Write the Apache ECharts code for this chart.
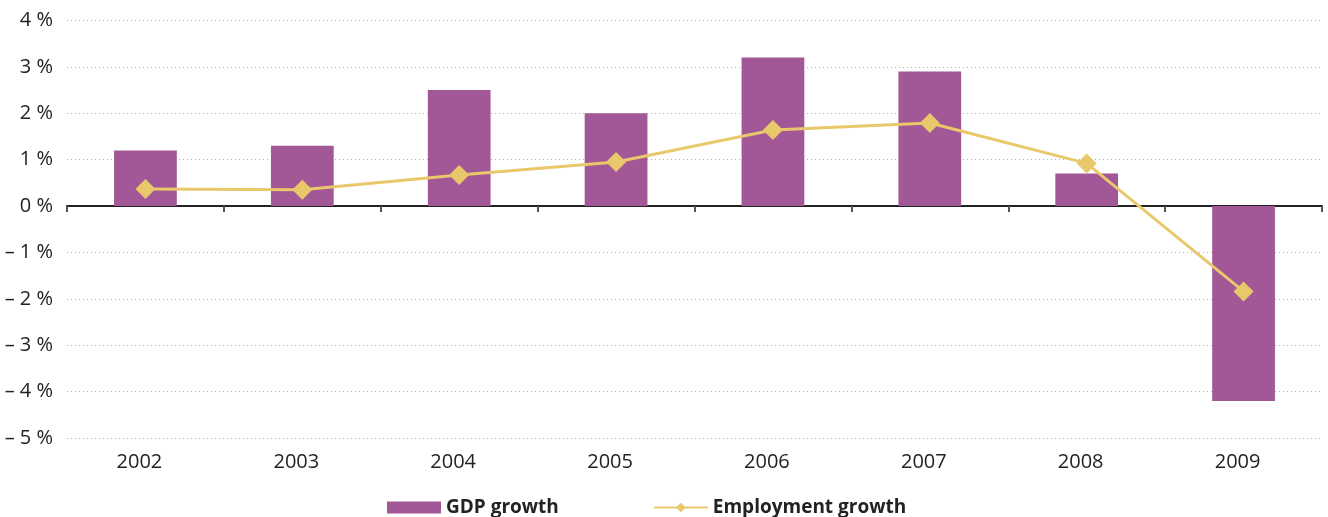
<!DOCTYPE html>
<html>
<head>
<meta charset="utf-8">
<script src="https://cdn.jsdelivr.net/npm/echarts@6/dist/echarts.min.js"></script>
<style>
  html, body { margin: 0; padding: 0; background: #fff; }
  #chart { width: 1328px; height: 517px; }
</style>
</head>
<body>
<div id="chart"></div>
<script>
// Annual growth rates, in percent
const years = ['2002', '2003', '2004', '2005', '2006', '2007', '2008', '2009'];
const gdpGrowth = [1.2, 1.3, 2.5, 2.0, 3.2, 2.9, 0.7, -4.2];
const employmentGrowth = [0.37, 0.35, 0.67, 0.95, 1.64, 1.79, 0.92, -1.84];
const yTickValues = [-5, -4, -3, -2, -1, 0, 1, 2, 3, 4];
const yTickLabels = ['– 5 %', '– 4 %', '– 3 %', '– 2 %', '– 1 %', '0 %', '1 %', '2 %', '3 %', '4 %'];

const FONT = '"Open Sans", "Noto Sans", sans-serif';
const chart = echarts.init(document.getElementById('chart'));

chart.setOption({
  animation: false,
  textStyle: { fontFamily: FONT },
  grid: { left: 67, right: 6, top: 20.5, bottom: 79, containLabel: false },
  legend: {
    bottom: 0,
    left: 387,
    padding: 0,
    itemWidth: 54,
    itemHeight: 12,
    itemGap: 94,
    textStyle: { fontFamily: FONT, fontSize: 19, fontWeight: 'bold', color: '#222' },
    data: [
      { name: 'GDP growth', icon: 'rect' },
      { name: 'Employment growth' }
    ]
  },
  xAxis: [
    {
      // zero line with the category boundary ticks
      type: 'category',
      data: years,
      position: 'bottom',
      axisLine: { onZero: true, lineStyle: { color: '#222', width: 2 } },
      axisTick: { show: true, length: 6, lineStyle: { color: '#555', width: 2 } },
      axisLabel: { show: false },
      splitLine: { show: false }
    },
    {
      // year labels along the bottom edge
      type: 'category',
      data: years,
      position: 'bottom',
      axisLine: { show: false, onZero: false },
      axisTick: { show: false },
      axisLabel: { show: true, margin: 14, fontSize: 20, color: '#222', fontFamily: FONT, padding: [0, 12, 0, 0] },
      splitLine: { show: false }
    }
  ],
  yAxis: {
    type: 'value',
    min: -5,
    max: 4,
    interval: 1,
    axisLine: { show: false },
    axisTick: { show: false },
    axisLabel: {
      margin: 14,
      fontSize: 20,
      color: '#222',
      fontFamily: FONT,
      formatter: function (v) {
        const i = yTickValues.indexOf(Math.round(v));
        return i >= 0 ? yTickLabels[i] : '';
      }
    },
    splitLine: { show: true, lineStyle: { type: [1, 3], color: '#b0b0b0', width: 1 } }
  },
  series: [
    {
      name: 'GDP growth',
      type: 'bar',
      xAxisIndex: 0,
      data: gdpGrowth,
      barWidth: '40%',
      itemStyle: { color: '#A25797' }
    },
    {
      name: 'Employment growth',
      type: 'line',
      xAxisIndex: 0,
      data: employmentGrowth,
      symbol: 'diamond',
      symbolSize: 20,
      lineStyle: { color: '#E9C86B', width: 3 },
      itemStyle: { color: '#E9C86B' }
    }
  ]
});
</script>
</body>
</html>
